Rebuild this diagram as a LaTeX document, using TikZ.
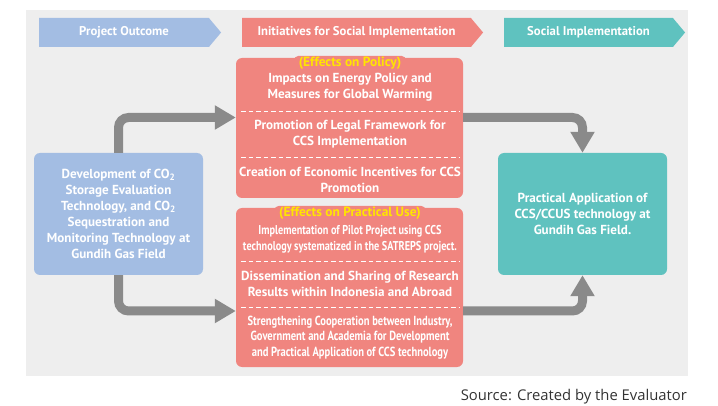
\documentclass[tikz,border=0pt]{standalone}
\usepackage{fontspec}
\setmainfont{PT Sans}
\newfontfamily\narrowfont[FakeStretch=0.8]{PT Sans}
\newfontfamily\sourcefont{Open Sans}
\usetikzlibrary{arrows.meta,calc,positioning}
\usetikzlibrary{shapes.symbols}

\definecolor{bgGray}{HTML}{EEEEEE}
\definecolor{outBlue}{HTML}{A3BDE3}
\definecolor{initRed}{HTML}{F0857F}
\definecolor{socTeal}{HTML}{5FC2BF}
\definecolor{arrowGray}{HTML}{8A8A8A}
\definecolor{tabYellow}{HTML}{FFE500}

\begin{document}
\begin{tikzpicture}[
    x=1pt,
    y=-1pt,
    font=\bfseries\fontsize{13.1}{16}\selectfont,
    header/.style={signal, signal to=east, signal pointer angle=100, inner sep=0pt,
        minimum height=29pt, text=white, font=\bfseries\fontsize{12.7}{15}\selectfont},
    box/.style={rounded corners=6pt, inner sep=0pt, align=center, text=white},
    item/.style={align=center, text=white, inner sep=0pt},
    tab/.style={fill=initRed, rounded corners=5pt, inner xsep=5pt, inner ysep=1pt,
        text=tabYellow, font=\bfseries\fontsize{13.4}{15}\selectfont},
    sep/.style={draw=white, line width=0.9pt, dash pattern=on 4.5pt off 3pt},
    flow/.style={draw=arrowGray, line width=9pt, rounded corners=10pt,
        -{Triangle[width=23pt,length=21pt]}}
]
	\useasboundingbox (0,0) rectangle (718,406);
	\fill[bgGray] (26,10) rectangle (688,376);

	\node[header, fill=outBlue, minimum width=182pt] (HeadOutcome) at (124,32.5) {Project Outcome};
	\node[header, fill=initRed, minimum width=241pt] (HeadInit) at (356.5,32.5) {Initiatives for Social Implementation};
	\node[header, fill=socTeal, minimum width=181pt] (HeadSocial) at (588.5,32.5) {Social Implementation};

	\node[box, fill=outBlue, minimum width=169pt, minimum height=122pt] (Outcome) at (118.5,214) {
	    Development of CO\textsubscript{2}\\Storage Evaluation\\Technology, and CO\textsubscript{2}\\
	    Sequestration and\\Monitoring Technology at\\Gundih Gas Field
	};
	\node[box, fill=initRed, minimum width=227pt, minimum height=140pt] (Policy) at (349.5,128) {};
	\node[box, fill=initRed, minimum width=227pt, minimum height=159pt] (Practical) at (349.5,287.5) {};
	\node[box, fill=socTeal, minimum width=169pt, minimum height=122pt] (Result) at (582.5,214) {
	    Practical Application of\\CCS/CCUS technology at\\Gundih Gas Field.
	};

	\node[tab] (PolicyTab) at (350,63) {(Effects on Policy)};
	\node[item] (Policy1) at (350,87) {Impacts on Energy Policy and\\Measures for Global Warming};
	\node[item] (Policy2) at (350,134.5) {Promotion of Legal Framework for\\CCS Implementation};
	\node[item] (Policy3) at (350,180) {Creation of Economic Incentives for CCS\\Promotion};
	\draw[sep] (241,111) -- (459,111);
	\draw[sep] (241,157) -- (459,157);

	\node[tab] (PracticalTab) at (350,213) {(Effects on Practical Use)};
	\node[item, font=\narrowfont\bfseries\fontsize{12.8}{16}\selectfont] (Practical1) at (350,239)
	    {Implementation of Pilot Project using CCS\\technology systematized in the SATREPS project.};
	\node[item] (Practical2) at (350,283.5) {Dissemination and Sharing of Research\\Results within Indonesia and Abroad};
	\node[item, font=\narrowfont\bfseries\fontsize{13.2}{15.5}\selectfont] (Practical3) at (350,337.5)
	    {Strengthening Cooperation between Industry,\\Government and Academia for Development\\and Practical Application of CCS technology};
	\draw[sep] (241,261) -- (459,261);
	\draw[sep] (241,307) -- (459,307);

	\draw[flow] (Outcome.north) |- ([yshift=10.5pt]Policy.west);
	\draw[flow] (Outcome.south) |- ([yshift=-23.5pt]Practical.west);
	\draw[flow] ([yshift=10.5pt]Policy.east) -| (Result.north);
	\draw[flow] ([yshift=-23.5pt]Practical.east) -| (Result.south);

	\node[anchor=east, inner sep=0pt, font=\sourcefont\fontsize{14.8}{17}\selectfont, text=black!80] (Source) at (687,397)
	    {Source: Created by the Evaluator};
\end{tikzpicture}
\end{document}
